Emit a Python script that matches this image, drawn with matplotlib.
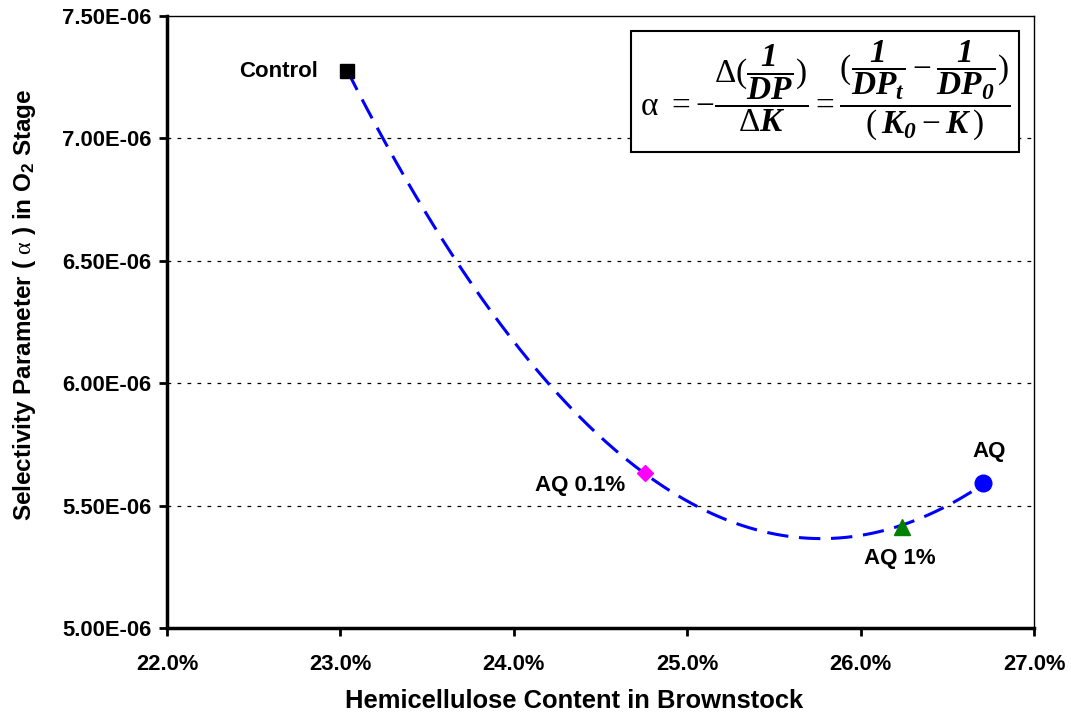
import numpy as np
import matplotlib
matplotlib.use("Agg")
import matplotlib.pyplot as plt
from matplotlib.ticker import PercentFormatter, FuncFormatter, MultipleLocator

plt.rcParams["font.family"] = ["Liberation Sans", "DejaVu Sans"]
plt.rcParams["font.weight"] = "bold"
plt.rcParams["mathtext.fontset"] = "custom"
plt.rcParams["mathtext.rm"] = "Liberation Serif:regular"
plt.rcParams["mathtext.it"] = "Liberation Serif:italic"
plt.rcParams["mathtext.bf"] = "Liberation Serif:bold:italic"
plt.rcParams["mathtext.sf"] = "Liberation Sans:bold"

# data
labels = ["Control", "AQ 0.1%", "AQ 1%", "AQ"]
hemi = [0.2304, 0.24757, 0.2624, 0.26706]
alpha = [7.275e-06, 5.633e-06, 5.413e-06, 5.592e-06]
markers = ["s", "D", "^", "o"]
colors = ["black", "#FF00FF", "#008000", "#0000FF"]
sizes = [10, 8, 11, 12]
label_offsets = [(-21, 0), (-14, -9), (-2, -23), (4, 23)]
label_ha = ["right", "right", "center", "center"]


def main():
    fig = plt.figure(figsize=(10.71, 7.19), dpi=100)
    ax = fig.add_axes([0.156, 0.1266, 0.8095, 0.8511])

    # 2nd order polynomial trendline, like the spreadsheet one
    coef = np.polyfit(np.array(hemi) * 100, alpha, 2)
    xs = np.linspace(min(hemi), max(hemi), 200)
    ax.plot(xs, np.polyval(coef, xs * 100), color="#0000FF", lw=2.2,
            dashes=(7, 3.5), zorder=3)

    for i in range(len(hemi)):
        ax.plot(hemi[i], alpha[i], marker=markers[i], color=colors[i],
                markersize=sizes[i], linestyle="none", zorder=4)
        ax.annotate(labels[i], (hemi[i], alpha[i]), xytext=label_offsets[i],
                    textcoords="offset points", ha=label_ha[i], va="center",
                    fontsize=16, fontweight="bold")

    ax.set_xlim(0.22, 0.27)
    ax.set_ylim(5.0e-06, 7.5e-06)
    ax.xaxis.set_major_locator(MultipleLocator(0.01))
    ax.xaxis.set_major_formatter(PercentFormatter(xmax=1, decimals=1))
    ax.yaxis.set_major_locator(MultipleLocator(0.5e-06))
    ax.yaxis.set_major_formatter(FuncFormatter(lambda v, p: "{:.2E}".format(v)))

    for v in [5.5e-06, 6.0e-06, 6.5e-06, 7.0e-06]:
        ax.axhline(v, color="black", lw=0.9, dashes=(3, 5), zorder=1)

    ax.spines["left"].set_linewidth(2.5)
    ax.spines["bottom"].set_linewidth(2.5)
    ax.spines["top"].set_linewidth(1.0)
    ax.spines["right"].set_linewidth(1.0)
    ax.tick_params(axis="both", direction="out", length=6, width=2,
                   labelsize=15.8, pad=5)
    ax.tick_params(axis="x", pad=13)
    for t in ax.get_xticklabels() + ax.get_yticklabels():
        t.set_fontweight("bold")

    ax.set_xlabel("Hemicellulose Content in Brownstock", fontsize=18.4,
                  fontweight="bold")
    ax.xaxis.set_label_coords(0.47, -0.1)
    ax.set_ylabel(r"Selectivity Parameter ( $\mathrm{\alpha}$ ) in O$_\mathsf{2}$ Stage",
                  fontsize=17.5, fontweight="bold")
    ax.yaxis.set_label_coords(-0.149, 0.528)

    formula = (r"$\mathrm{\alpha}\ =-\dfrac{\Delta(\dfrac{\mathbf{1}}{\mathbf{DP}})}"
               r"{\Delta\mathbf{K}}=\dfrac{(\dfrac{\mathbf{1}}{\mathbf{DP_t}}-"
               r"\dfrac{\mathbf{1}}{\mathbf{DP_0}})}{(\,\mathbf{K_0}-\mathbf{K}\,)}$")
    ax.text(0.545, 0.962, formula, transform=ax.transAxes, fontsize=24,
            ha="left", va="top", zorder=5,
            bbox=dict(boxstyle="square,pad=0.25", fc="white", ec="black", lw=1.5))

    fig.savefig("out.png", dpi=100)
    plt.close(fig)


if __name__ == "__main__":
    main()
